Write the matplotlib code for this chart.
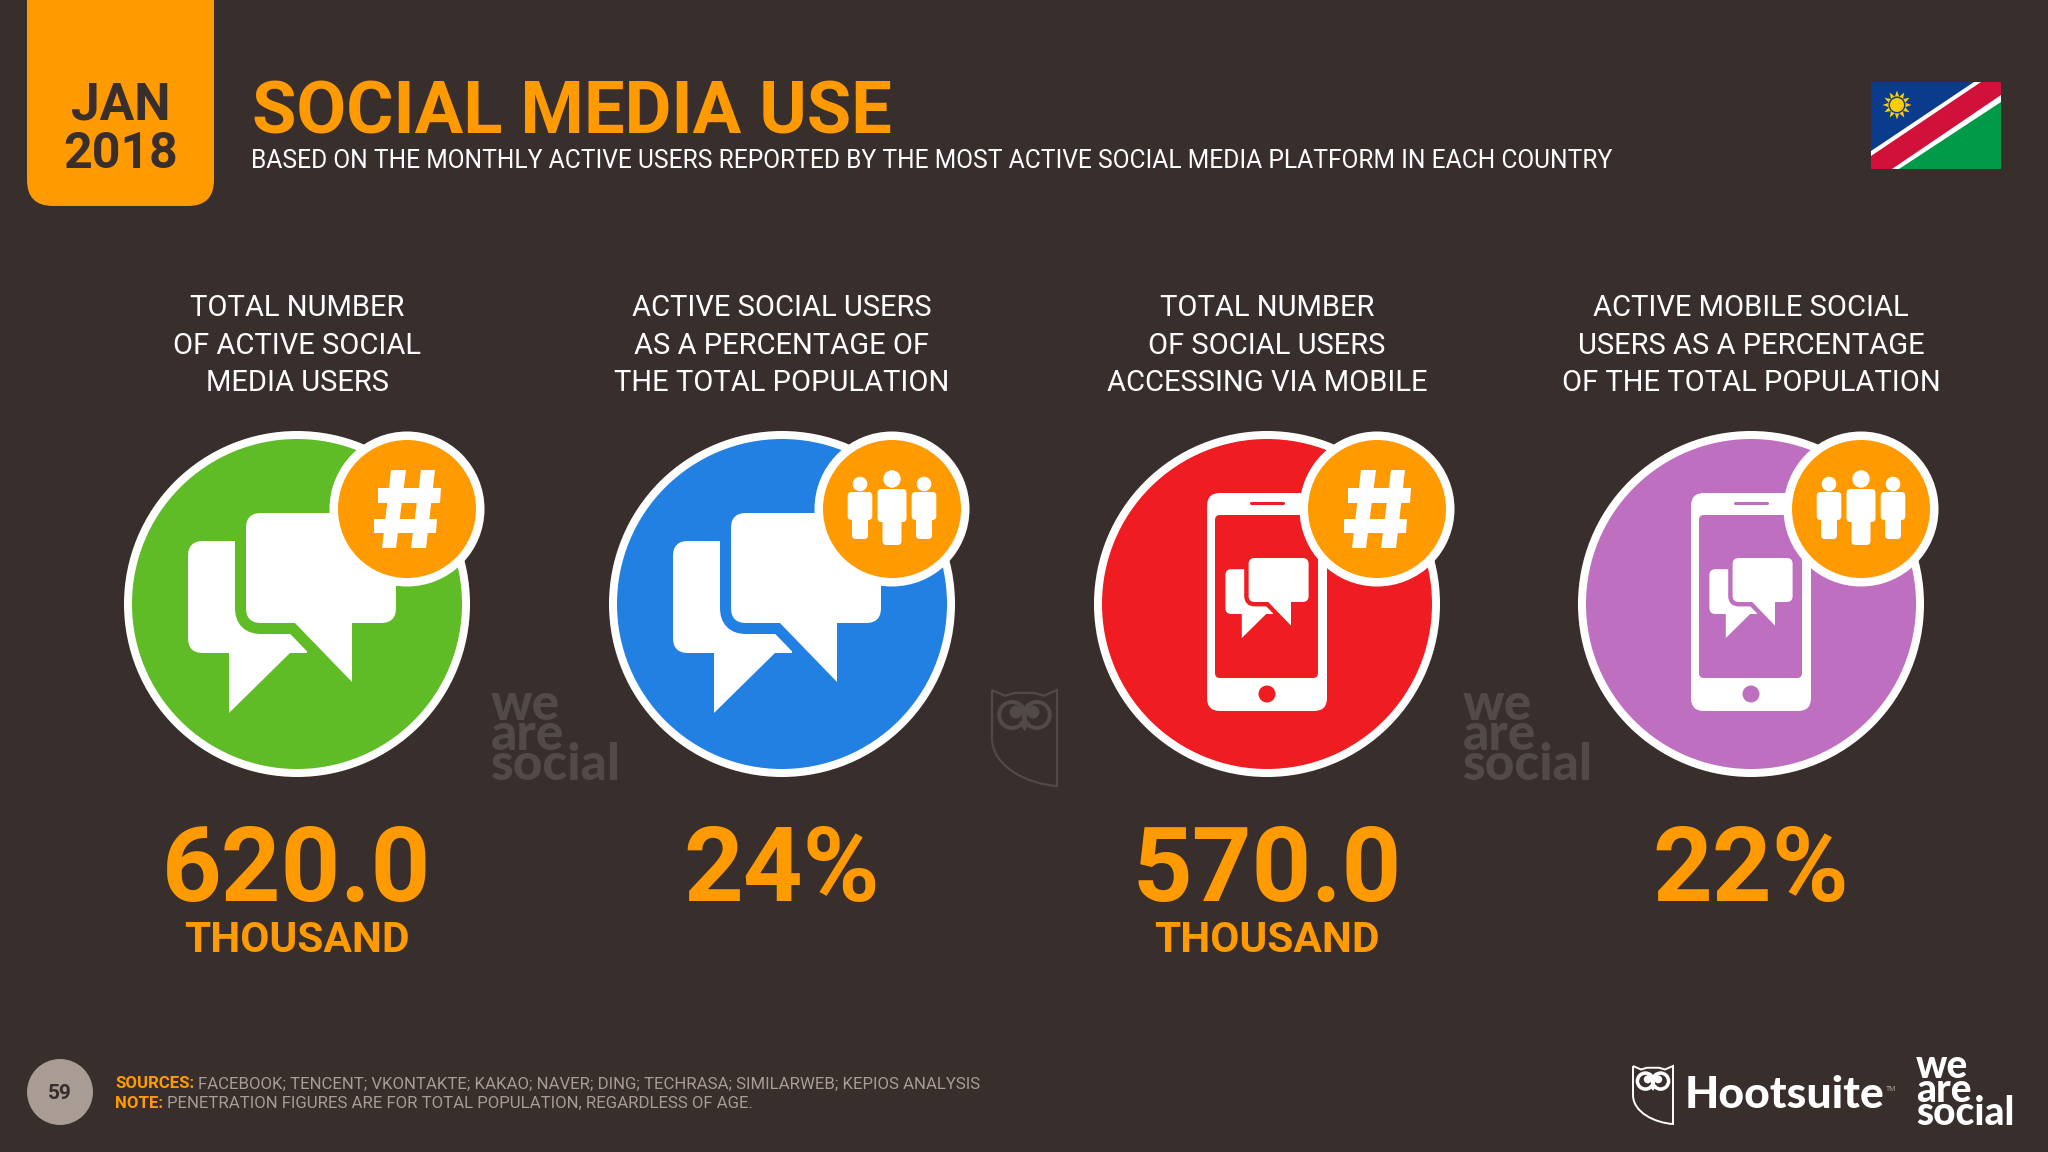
import numpy as np
import matplotlib
matplotlib.use("Agg")
import matplotlib.pyplot as plt
from matplotlib.patches import Circle, FancyBboxPatch, Polygon, PathPatch, Rectangle
from matplotlib.path import Path

# Chart content
date_lines = ["JAN", "2018"]
title = "SOCIAL MEDIA USE"
subtitle = "BASED ON THE MONTHLY ACTIVE USERS REPORTED BY THE MOST ACTIVE SOCIAL MEDIA PLATFORM IN EACH COUNTRY"
metric_labels = [
    ["TOTAL NUMBER", "OF ACTIVE SOCIAL", "MEDIA USERS"],
    ["ACTIVE SOCIAL USERS", "AS A PERCENTAGE OF", "THE TOTAL POPULATION"],
    ["TOTAL NUMBER", "OF SOCIAL USERS", "ACCESSING VIA MOBILE"],
    ["ACTIVE MOBILE SOCIAL", "USERS AS A PERCENTAGE", "OF THE TOTAL POPULATION"],
]
metric_values = ["620.0", "24%", "570.0", "22%"]
metric_units = ["THOUSAND", "", "THOUSAND", ""]
sources_head = "SOURCES:"
sources_text = "FACEBOOK; TENCENT; VKONTAKTE; KAKAO; NAVER; DING; TECHRASA; SIMILARWEB; KEPIOS ANALYSIS"
note_head = "NOTE:"
note_text = "PENETRATION FIGURES ARE FOR TOTAL POPULATION, REGARDLESS OF AGE."
page_number = "59"
wordmark_text = "we\nare\nsocial"

# Styles
BG = "#382e2c"
ORANGE = "#ff9a00"
WATERMARK = "#524a48"
GREY = "#a89c95"
circle_colors = ["#60bc26", "#2280e3", "#ef1d21", "#bf6fc0"]
column_x = [297, 782, 1267, 1751]
BOLD_FONT = "Roboto"

fig = plt.figure(figsize=(20.48, 11.52), dpi=100, facecolor=BG)
ax = fig.add_axes([0, 0, 1, 1])
ax.set_xlim(0, 2048)
ax.set_ylim(1152, 0)
ax.axis("off")


def round_rect(x0, y0, x1, y1, r, color, z=2, edge=None, edge_w=0):
    patch = FancyBboxPatch(
        (x0 + r, y0 + r),
        x1 - x0 - 2 * r,
        y1 - y0 - 2 * r,
        boxstyle=f"round,pad={r},rounding_size={r}",
        facecolor=color,
        edgecolor=edge if edge else color,
        linewidth=edge_w,
        zorder=z,
    )
    ax.add_patch(patch)


def bubbles(cx, cy, s, color, z=3):
    # two overlapping speech bubbles, offsets measured from the icon centre
    def pt(dx, dy):
        return (cx + dx * s, cy + dy * s)

    x0, y0 = pt(-104, -72)
    x1, y1 = pt(15, 40)
    round_rect(x0, y0, x1, y1, 15 * s, "white", z)
    # square off the lower right corner, it runs into the other bubble's tail
    ax.add_patch(Polygon([pt(-20, 0), pt(15, 0), pt(15, 40), pt(-20, 40)], fc="white", lw=0, zorder=z))
    ax.add_patch(Polygon([pt(-63, 38), pt(-63, 100), pt(0, 38)], fc="white", lw=0, zorder=z))
    # right bubble, with a gap in the circle colour round it
    x0, y0 = pt(-46, -100)
    x1, y1 = pt(104, 10)
    gap = 22 * s * 0.72
    round_rect(x0, y0, x1, y1, 15 * s, color, z + 1, color, gap)
    ax.add_patch(
        Polygon([pt(1, 8), pt(60, 69), pt(60, 8)], fc=color, ec=color, lw=gap, zorder=z + 1)
    )
    round_rect(x0, y0, x1, y1, 15 * s, "white", z + 2)
    ax.add_patch(Polygon([pt(1, 8), pt(60, 69), pt(60, 8)], fc="white", lw=0, zorder=z + 2))


def phone(cx, cy, color):
    round_rect(cx - 60, cy + -111, cx + 60, cy + 107, 13, "white", 3)
    round_rect(cx - 52, cy - 89, cx + 51, cy + 74, 5, color, 4)
    ax.plot([cx - 16, cx + 16], [cy - 101, cy - 101], color=color, lw=2.2, zorder=4,
            solid_capstyle="round")
    ax.add_patch(Circle((cx, cy + 90), 8.5, fc=color, lw=0, zorder=4))
    bubbles(cx, cy - 6, 0.4, color, z=5)


def hash_icon(cx, cy):
    bars = [
        [(-16, -39), (-1, -39), (-11, 39), (-25, 39)],
        [(14, -39), (28, -39), (19, 39), (4, 39)],
        [(-29, -21), (34, -21), (33, -6), (-29, -6)],
        [(-33, 10), (30, 10), (29, 24), (-33, 24)],
    ]
    for b in bars:
        ax.add_patch(Polygon([(cx + x, cy + y) for x, y in b], fc="white", lw=0, zorder=11))


def people_icon(cx, cy):
    def person(dx, head_y, head_r, top, body_w, body_b, leg_w, leg_b):
        ax.add_patch(Circle((cx + dx, cy + head_y), head_r, fc="white", lw=0, zorder=11))
        round_rect(cx + dx - body_w, cy + top, cx + dx + body_w, cy + body_b, 4, "white", 11)
        round_rect(cx + dx - leg_w, cy + top + 10, cx + dx + leg_w, cy + leg_b, 4, "white", 11)

    person(0, -30, 8.7, -20, 14.5, 13, 9.5, 36)
    person(-32, -25, 7.3, -17, 12.3, 11, 8, 30)
    person(32, -25, 7.3, -17, 12.3, 11, 8, 30)


def owl(x0, y0, w, h, color, lw):
    def pt(u, v):
        return (x0 + u * w, y0 + v * h)

    verts = [pt(0, 0), pt(0.2, 0.06), pt(0.35, 0.03), pt(0.5, 0.03), pt(0.65, 0.03),
             pt(0.8, 0.06), pt(1, 0), pt(1, 1), pt(0.55, 0.98), pt(0, 0.8), pt(0, 0.5), pt(0, 0)]
    codes = [Path.MOVETO, Path.LINETO, Path.LINETO, Path.LINETO, Path.LINETO, Path.LINETO,
             Path.LINETO, Path.LINETO, Path.CURVE4, Path.CURVE4, Path.CURVE4, Path.LINETO]
    ax.add_patch(PathPatch(Path(verts, codes), fc="none", ec=color, lw=lw, zorder=2))
    r = 0.2 * w
    for u, side in [(0.31, 1), (0.69, -1)]:
        ax.add_patch(Circle(pt(u, 0.26), r, fc="none", ec=color, lw=lw * 1.8, zorder=2))
        ax.add_patch(Circle(pt(u + side * 0.06, 0.23), r * 0.5, fc=color, lw=0, zorder=2))
    ax.add_patch(Polygon([pt(0.41, 0.33), pt(0.59, 0.33), pt(0.5, 0.43)], fc=color, lw=0, zorder=2))


def wordmark(x, base_y, size, color):
    # base_y is the baseline of the last line
    ax.text(x, base_y, wordmark_text, color=color, fontsize=size, family="Lato",
            weight="black", ha="left", va="baseline", ma="left", linespacing=0.55, zorder=2)


def run_on(x, y, head, text, size):
    # orange bold lead-in followed by the grey text
    t = ax.text(x, y, head, color=ORANGE, fontsize=size, family=BOLD_FONT, weight="bold",
                ha="left", va="baseline")
    box = t.get_window_extent(fig.canvas.get_renderer())
    ax.text(box.x1 + 4, y, text, color=GREY, fontsize=size, family=BOLD_FONT,
            ha="left", va="baseline")


# Date tab
round_rect(27, -40, 214, 206, 26, ORANGE)
for word, y, size in zip(date_lines, [120, 168], [37, 36]):
    ax.text(120.5, y, word, color=BG, fontsize=size, family=BOLD_FONT, weight="bold",
            ha="center", va="baseline")

# Title
ax.text(252, 134, title, color=ORANGE, fontsize=52, family=BOLD_FONT, weight="bold",
        ha="left", va="baseline")
ax.text(251, 168, subtitle, color="white", fontsize=17.7, family=BOLD_FONT,
        ha="left", va="baseline")

# Flag
ax.add_patch(Rectangle((1871, 82), 130, 87, fc="white", lw=0, zorder=2))
ax.add_patch(Polygon([(1871, 82), (1974, 82), (1871, 151)], fc="#0b3b8c", lw=0, zorder=3))
ax.add_patch(Polygon([(1981, 82), (2001, 82), (2001, 95), (1892, 169), (1871, 169), (1871, 156)],
                     fc="#d2113a", lw=0, zorder=3))
ax.add_patch(Polygon([(2001, 102), (2001, 169), (1899, 169)], fc="#009a49", lw=0, zorder=3))
ang = np.linspace(0, 2 * np.pi, 24, endpoint=False)
rad = np.where(np.arange(24) % 2 == 0, 14.5, 8.5)
ax.add_patch(Polygon(np.c_[1897 + rad * np.sin(ang), 105 + rad * np.cos(ang)],
                     fc="#ffce00", lw=0, zorder=4))
ax.add_patch(Circle((1897, 105), 8.5, fc="#0b3b8c", lw=0, zorder=5))
ax.add_patch(Circle((1897, 105), 7, fc="#ffce00", lw=0, zorder=6))

# Watermarks
wordmark(491, 780, 37, WATERMARK)
wordmark(1463, 780, 37, WATERMARK)
owl(992, 690, 65, 96, WATERMARK, 1.6)

# Metric columns
for i, cx in enumerate(column_x):
    for line, y in zip(metric_labels[i], [316, 353.5, 391]):
        ax.text(cx, y, line, color="white", fontsize=21, family=BOLD_FONT,
                ha="center", va="baseline")

    color = circle_colors[i]
    ax.add_patch(Circle((cx, 604), 173, fc="white", lw=0, zorder=2))
    ax.add_patch(Circle((cx, 604), 165, fc=color, lw=0, zorder=2))
    if i < 2:
        bubbles(cx - 5, 613, 1.0, color)
    else:
        phone(cx, 604, color)

    bx, by = cx + 110, 509
    ax.add_patch(Circle((bx, by), 77.5, fc="white", lw=0, zorder=9))
    ax.add_patch(Circle((bx, by), 69, fc=ORANGE, lw=0, zorder=10))
    if i % 2 == 0:
        hash_icon(bx, by)
    else:
        people_icon(bx, by)

    ax.text(cx, 901, metric_values[i], color=ORANGE, fontsize=75, family=BOLD_FONT,
            weight="bold", ha="center", va="baseline")
    if metric_units[i]:
        ax.text(cx, 952, metric_units[i], color=ORANGE, fontsize=30.5, family=BOLD_FONT,
                weight="bold", ha="center", va="baseline")

# Footer
ax.add_patch(Circle((60, 1092), 33, fc=GREY, lw=0, zorder=2))
ax.text(60, 1099, page_number, color=BG, fontsize=15, family=BOLD_FONT, weight="bold",
        ha="center", va="baseline", zorder=3)
fig.canvas.draw()
run_on(115, 1088, sources_head, sources_text, 12.1)
run_on(115, 1108, note_head, note_text, 12.1)

# Logos
owl(1633, 1066, 40, 58, "white", 1.4)
ax.text(1685, 1108, "Hootsuite", color="white", fontsize=32, family="Lato", weight="black",
        ha="left", va="baseline")
ax.text(1886, 1091, "TM", color=GREY, fontsize=5, family=BOLD_FONT, ha="left", va="baseline")
wordmark(1916, 1125, 28, "white")

fig.savefig("out.png", dpi=100, facecolor=BG)
